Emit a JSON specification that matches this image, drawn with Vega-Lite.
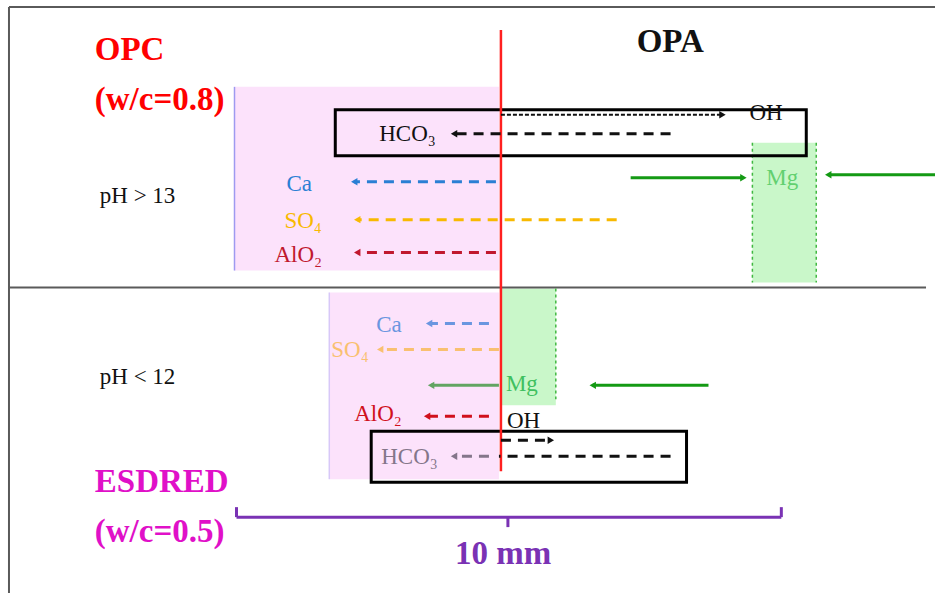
{
  "$schema": "https://vega.github.io/schema/vega-lite/v6.json",
  "width": 937,
  "height": 594,
  "autosize": {"type": "fit", "contains": "padding"},
  "padding": 0,
  "background": "white",
  "config": {"view": {"stroke": null}},
  "datasets": {
    "areas": [
      {"x": 235, "x2": 500, "y": 87, "y2": 271, "kind": "pink"},
      {"x": 330, "x2": 500, "y": 293, "y2": 480, "kind": "pink"},
      {"x": 754, "x2": 818, "y": 143, "y2": 283, "kind": "green"},
      {"x": 502, "x2": 557, "y": 289, "y2": 406, "kind": "green"}
    ],
    "boxes": [
      {"x": 336, "x2": 808, "y": 110, "y2": 156, "kind": "box"},
      {"x": 372, "x2": 688, "y": 432, "y2": 483, "kind": "box"}
    ],
    "frame": [
      {"x": 9, "x2": 937, "y": 7, "y2": 7, "kind": "frame"},
      {"x": 9, "x2": 9, "y": 7, "y2": 594, "kind": "frame"},
      {"x": 9, "x2": 928, "y": 288, "y2": 288, "kind": "frame"}
    ],
    "borders": [
      {"x": 235, "x2": 235, "y": 87, "y2": 271, "kind": "pborder"},
      {"x": 330, "x2": 330, "y": 293, "y2": 480, "kind": "pborder2"}
    ],
    "dotted": [
      {"x": 754, "x2": 754, "y": 143, "y2": 283, "kind": "gborder"},
      {"x": 818, "x2": 818, "y": 143, "y2": 283, "kind": "gborder"},
      {"x": 557, "x2": 557, "y": 289, "y2": 400, "kind": "gborder"}
    ],
    "redline": [
      {"x": 502, "x2": 502, "y": 30, "y2": 472, "kind": "red"}
    ],
    "scalebar": [
      {"x": 237, "x2": 783, "y": 518, "y2": 518, "kind": "scale"},
      {"x": 237, "x2": 237, "y": 508, "y2": 518, "kind": "scale"},
      {"x": 783, "x2": 783, "y": 508, "y2": 518, "kind": "scale"},
      {"x": 509, "x2": 509, "y": 518, "y2": 528, "kind": "scale"}
    ],
    "arrows": [
      {"x": 672, "x2": 455, "y": 134, "kind": "black", "style": "dash", "head": "left"},
      {"x": 502, "x2": 724, "y": 115, "kind": "black", "style": "dot", "head": "right"},
      {"x": 497, "x2": 355, "y": 182, "kind": "ca1", "style": "dash", "head": "left"},
      {"x": 618, "x2": 358, "y": 220, "kind": "so41", "style": "dash", "head": "left"},
      {"x": 497, "x2": 358, "y": 253, "kind": "alo21", "style": "dash", "head": "left"},
      {"x": 632, "x2": 745, "y": 178, "kind": "mg", "style": "solid", "head": "right"},
      {"x": 937, "x2": 830, "y": 175, "kind": "mg", "style": "solid", "head": "left"},
      {"x": 490, "x2": 430, "y": 324, "kind": "ca2", "style": "dash", "head": "left"},
      {"x": 500, "x2": 381, "y": 350, "kind": "so42", "style": "dash", "head": "left"},
      {"x": 500, "x2": 432, "y": 386, "kind": "mg2", "style": "solid", "head": "left"},
      {"x": 490, "x2": 428, "y": 417, "kind": "alo22", "style": "dash", "head": "left"},
      {"x": 490, "x2": 455, "y": 457, "kind": "hco32", "style": "dash", "head": "left"},
      {"x": 672, "x2": 500, "y": 457, "kind": "black", "style": "dash", "head": "none"},
      {"x": 502, "x2": 552, "y": 441, "kind": "black", "style": "dash", "head": "right"},
      {"x": 710, "x2": 594, "y": 386, "kind": "mg", "style": "solid", "head": "left"}
    ],
    "boldText": [
      {"x": 95, "y": 60, "label": "OPC", "kind": "opc"},
      {"x": 95, "y": 110, "label": "(w/c=0.8)", "kind": "opc"},
      {"x": 638, "y": 52, "label": "OPA", "kind": "black"},
      {"x": 95, "y": 493, "label": "ESDRED", "kind": "esdred"},
      {"x": 95, "y": 543, "label": "(w/c=0.5)", "kind": "esdred"},
      {"x": 456, "y": 565, "label": "10 mm", "kind": "scale"}
    ],
    "plainText": [
      {"x": 100, "y": 203, "label": "pH > 13", "kind": "black"},
      {"x": 100, "y": 385, "label": "pH < 12", "kind": "black"},
      {"x": 380, "y": 141, "label": "HCO₃", "kind": "black"},
      {"x": 751, "y": 120, "label": "OH", "kind": "black"},
      {"x": 287, "y": 191, "label": "Ca", "kind": "ca1"},
      {"x": 285, "y": 228, "label": "SO₄", "kind": "so41"},
      {"x": 275, "y": 262, "label": "AlO₂", "kind": "alo21"},
      {"x": 768, "y": 185, "label": "Mg", "kind": "mgtext"},
      {"x": 377, "y": 333, "label": "Ca", "kind": "ca2"},
      {"x": 332, "y": 358, "label": "SO₄", "kind": "so42"},
      {"x": 507, "y": 392, "label": "Mg", "kind": "mgtext2"},
      {"x": 355, "y": 422, "label": "AlO₂", "kind": "alo22"},
      {"x": 508, "y": 429, "label": "OH", "kind": "black"},
      {"x": 382, "y": 465, "label": "HCO₃", "kind": "hco32"}
    ]
  },
  "encoding": {
    "x": {"field": "x", "type": "quantitative", "scale": {"domain": [0, 937], "nice": false, "zero": false}, "axis": null},
    "y": {"field": "y", "type": "quantitative", "scale": {"domain": [0, 594], "nice": false, "zero": false, "reverse": true}, "axis": null},
    "color": {
      "field": "kind",
      "type": "nominal",
      "legend": null,
      "scale": {
        "domain": ["frame", "red", "pborder", "pborder2", "scale", "pink", "green", "gborder", "box", "ca1", "so41", "alo21", "black", "mg", "ca2", "so42", "mg2", "alo22", "hco32", "opc", "esdred", "mgtext", "mgtext2"],
        "range": ["#5a5a5a", "#ff2020", "#9f9af0", "#d8c8f8", "#7a32b4", "#fce2fb", "#c9f7c9", "#40b840", "#000000", "#2a7fd4", "#f8b900", "#c0182e", "#111111", "#149a14", "#6a96e0", "#f9c070", "#62a462", "#d0101c", "#84768a", "#ff0000", "#e010c8", "#62d070", "#40c060"]
      }
    }
  },
  "layer": [
    {
      "data": {"name": "areas"},
      "mark": {"type": "rect", "opacity": 1},
      "encoding": {"x2": {"field": "x2"}, "y2": {"field": "y2"}}
    },
    {
      "data": {"name": "frame"},
      "mark": {"type": "rule", "strokeWidth": 2},
      "encoding": {"x2": {"field": "x2"}, "y2": {"field": "y2"}}
    },
    {
      "data": {"name": "borders"},
      "mark": {"type": "rule", "strokeWidth": 1.5},
      "encoding": {"x2": {"field": "x2"}, "y2": {"field": "y2"}}
    },
    {
      "data": {"name": "dotted"},
      "mark": {"type": "rule", "strokeWidth": 1.5, "strokeDash": [3, 3]},
      "encoding": {"x2": {"field": "x2"}, "y2": {"field": "y2"}}
    },
    {
      "data": {"name": "boxes"},
      "mark": {"type": "rect", "filled": false, "strokeWidth": 3},
      "encoding": {"x2": {"field": "x2"}, "y2": {"field": "y2"}}
    },
    {
      "data": {"name": "redline"},
      "mark": {"type": "rule", "strokeWidth": 2.5},
      "encoding": {"x2": {"field": "x2"}, "y2": {"field": "y2"}}
    },
    {
      "data": {"name": "arrows"},
      "transform": [{"filter": "datum.style === 'dash'"}],
      "mark": {"type": "rule", "strokeWidth": 3, "strokeDash": [10, 7]},
      "encoding": {"x2": {"field": "x2"}}
    },
    {
      "data": {"name": "arrows"},
      "transform": [{"filter": "datum.style === 'dot'"}],
      "mark": {"type": "rule", "strokeWidth": 2, "strokeDash": [4, 2]},
      "encoding": {"x2": {"field": "x2"}}
    },
    {
      "data": {"name": "arrows"},
      "transform": [{"filter": "datum.style === 'solid'"}],
      "mark": {"type": "rule", "strokeWidth": 3},
      "encoding": {"x2": {"field": "x2"}}
    },
    {
      "data": {"name": "arrows"},
      "transform": [{"filter": "datum.head !== 'none'"}],
      "mark": {"type": "point", "filled": true, "opacity": 1, "size": 55},
      "encoding": {
        "x": {"field": "x2", "type": "quantitative"},
        "shape": {"field": "head", "type": "nominal", "legend": null, "scale": {"domain": ["left", "right"], "range": ["triangle-left", "triangle-right"]}}
      }
    },
    {
      "data": {"name": "scalebar"},
      "mark": {"type": "rule", "strokeWidth": 3},
      "encoding": {"x2": {"field": "x2"}, "y2": {"field": "y2"}}
    },
    {
      "data": {"name": "boldText"},
      "mark": {"type": "text", "align": "left", "baseline": "alphabetic", "font": "Liberation Serif", "fontWeight": "bold", "fontSize": 33},
      "encoding": {"text": {"field": "label"}}
    },
    {
      "data": {"name": "plainText"},
      "mark": {"type": "text", "align": "left", "baseline": "alphabetic", "font": "Liberation Serif", "fontSize": 23},
      "encoding": {"text": {"field": "label"}}
    }
  ]
}
